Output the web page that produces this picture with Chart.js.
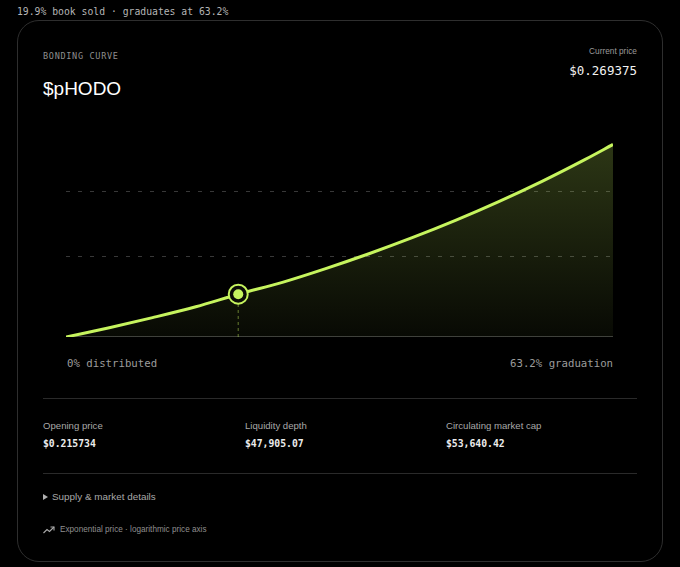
<!DOCTYPE html>
<html>
<head>
<meta charset="utf-8">
<script src="https://cdn.jsdelivr.net/npm/chart.js@4.4.1/dist/chart.umd.min.js"></script>
<style>
  body { margin: 0; background: #000; width: 680px; height: 567px; overflow: hidden; position: relative; font-family: "Liberation Sans", Arial, sans-serif; }
  .abs { position: absolute; white-space: nowrap; line-height: 1; }
  .mono { font-family: "DejaVu Sans Mono", monospace; }
  .card { position: absolute; left: 17px; top: 20px; width: 644px; height: 540px; border: 1px solid #2e2e2e; border-radius: 22px; }
  .rule { position: absolute; left: 43px; width: 594px; height: 1px; background: #2a2a2a; }
  .tri { position: absolute; left: 43px; top: 494px; width: 0; height: 0; border-top: 3px solid transparent; border-bottom: 3px solid transparent; border-left: 5px solid #b0b0b0; }
  #wrap { position: absolute; left: 66px; top: 126px; width: 547px; height: 211px; }
</style>
</head>
<body>
<div class="abs mono" style="left:17px; top:7px; font-size:9.75px; color:#b5b5b5;">19.9% book sold · graduates at 63.2%</div>
<div class="card"></div>

<div class="abs mono" style="left:43px; top:52px; font-size:8.5px; letter-spacing:0.7px; color:#8e8e8e;">BONDING CURVE</div>
<div class="abs" style="left:43px; top:79px; font-size:19px; color:#fff;">$pHODO</div>
<div class="abs" style="right:43px; top:47px; font-size:8.3px; color:#9a9a9a;">Current price</div>
<div class="abs mono" style="right:43px; top:65px; font-size:12.5px; color:#f2f2f2;">$0.269375</div>

<div id="wrap"><canvas id="myChart" width="547" height="211"></canvas></div>

<div class="abs mono" style="left:67px; top:359px; font-size:10.7px; color:#9c9c9c;">0% distributed</div>
<div class="abs mono" style="right:67px; top:359px; font-size:10.7px; color:#9c9c9c;">63.2% graduation</div>

<div class="rule" style="top:398px;"></div>
<div class="abs" style="left:43px; top:421px; font-size:9.6px; color:#a8a8a8;">Opening price</div>
<div class="abs" style="left:245px; top:421px; font-size:9.6px; color:#a8a8a8;">Liquidity depth</div>
<div class="abs" style="left:446px; top:421px; font-size:9.6px; color:#a8a8a8;">Circulating market cap</div>
<div class="abs mono" style="left:43px; top:439px; font-size:9.75px; font-weight:bold; color:#ececec;">$0.215734</div>
<div class="abs mono" style="left:245px; top:439px; font-size:9.75px; font-weight:bold; color:#ececec;">$47,905.07</div>
<div class="abs mono" style="left:446px; top:439px; font-size:9.75px; font-weight:bold; color:#ececec;">$53,640.42</div>
<div class="rule" style="top:473px;"></div>

<div class="tri"></div>
<div class="abs" style="left:52px; top:492px; font-size:9.9px; color:#a8a8a8;">Supply &amp; market details</div>

<svg style="position:absolute; left:43px; top:526px;" width="12" height="8" viewBox="0 0 12 8">
  <polyline points="0.5,7 4,3.5 6.5,5.5 11,1" fill="none" stroke="#aaa" stroke-width="1.1"/>
  <polyline points="7.5,1 11,1 11,4.5" fill="none" stroke="#aaa" stroke-width="1.1"/>
</svg>
<div class="abs" style="left:60px; top:526px; font-size:8.2px; color:#8f8f8f;">Exponential price · logarithmic price axis</div>

<script>
// % of supply distributed along the curve
const distributed = [0, 5, 10, 15, 20, 25, 30, 35, 40, 45, 50, 55, 60, 63.2];
// price at each point
const prices = [0.2157, 0.2274, 0.2400, 0.2536, 0.2696, 0.2842, 0.3014, 0.3200, 0.3401, 0.3618, 0.3853, 0.4107, 0.4382, 0.4569];
// current position marker
const currentPct = 19.9;
const currentPrice = 0.269375;
const openingPrice = 0.215734;
// dashed guide lines
const gridPrices = [0.3162, 0.3979];

const lime = "#c6f45e";

const ctx = document.getElementById("myChart");

const myChart = new Chart(ctx, {
  type: "line",
  data: {
    datasets: [
      {
        label: "marker dot",
        data: [{ x: currentPct, y: currentPrice }],
        pointRadius: 5,
        pointBackgroundColor: lime,
        pointBorderWidth: 0,
        showLine: false,
        order: 0,
      },
      {
        label: "marker ring",
        data: [{ x: currentPct, y: currentPrice }],
        pointRadius: 9.5,
        pointBackgroundColor: "#0b0c06",
        pointBorderColor: lime,
        pointBorderWidth: 2,
        showLine: false,
        order: 1,
      },
      {
        label: "drop line",
        data: [{ x: currentPct, y: openingPrice }, { x: currentPct, y: currentPrice }],
        borderColor: "rgba(200,245,95,0.4)",
        borderWidth: 1.2,
        borderDash: [3, 3],
        pointRadius: 0,
        order: 3,
      },
      {
        label: "price",
        data: distributed.map((d, i) => ({ x: d, y: prices[i] })),
        borderColor: lime,
        borderWidth: 3,
        pointRadius: 0,
        cubicInterpolationMode: "monotone",
        fill: "start",
        backgroundColor: function (context) {
          const area = context.chart.chartArea;
          if (!area) return "rgba(0,0,0,0)";
          const g = context.chart.ctx.createLinearGradient(0, area.top, 0, area.bottom);
          g.addColorStop(0, "rgba(200,245,95,0.24)");
          g.addColorStop(1, "rgba(200,245,95,0.04)");
          return g;
        },
        order: 2,
      },
    ],
  },
  options: {
    responsive: false,
    animation: false,
    layout: { padding: 0, autoPadding: false },
    plugins: { legend: { display: false }, tooltip: { enabled: false } },
    scales: {
      x: {
        type: "linear",
        min: 0,
        max: 63.2,
        ticks: { display: false },
        grid: { display: false, drawTicks: false },
        border: { display: true, color: "#3a3a3a", width: 1.5 },
      },
      y: {
        type: "linear",
        min: openingPrice,
        max: 0.48,
        afterBuildTicks: (scale) => {
          scale.ticks = gridPrices.map((v) => ({ value: v }));
        },
        ticks: { display: false },
        grid: { color: "rgba(255,255,255,0.22)", drawTicks: false, lineWidth: 1 },
        border: { display: false, dash: [4, 8] },
      },
    },
  },
});
</script>
</body>
</html>
